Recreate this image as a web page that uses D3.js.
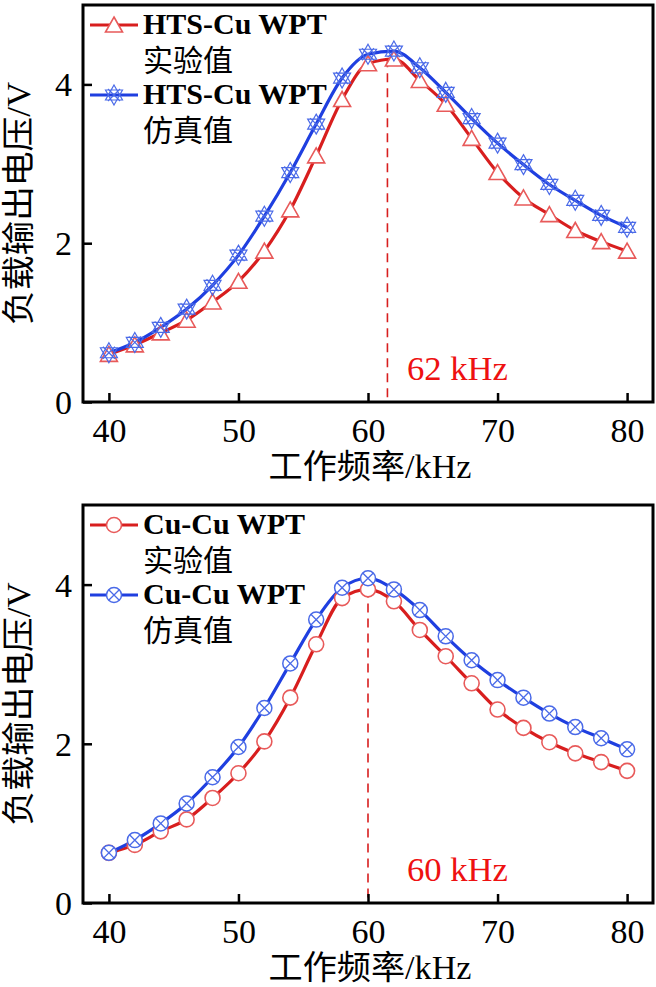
<!DOCTYPE html>
<html><head><meta charset="utf-8">
<script src="https://cdn.jsdelivr.net/npm/d3@7"></script>
<style>body{margin:0;background:#fff}</style>
</head><body>
<svg id="c" width="656" height="987"></svg>
<script>
const freq = [40,42,44,46,48,50,52,54,56,58,60,62,64,66,68,70,72,74,76,78,80];
const htsExp = [0.60,0.72,0.87,1.03,1.26,1.52,1.90,2.42,3.10,3.81,4.26,4.32,4.05,3.75,3.32,2.89,2.57,2.36,2.16,2.02,1.90];
const htsSim = [0.62,0.75,0.94,1.17,1.47,1.85,2.34,2.89,3.50,4.08,4.38,4.42,4.21,3.90,3.57,3.26,2.99,2.74,2.54,2.35,2.20];
const cuExp = [0.63,0.73,0.90,1.05,1.32,1.63,2.03,2.58,3.25,3.83,3.94,3.79,3.43,3.10,2.76,2.43,2.20,2.02,1.88,1.77,1.66];
const cuSim = [0.63,0.79,1.00,1.25,1.58,1.96,2.45,3.01,3.56,3.96,4.08,3.94,3.68,3.35,3.05,2.80,2.58,2.38,2.21,2.07,1.93];
const xTicks = [40,50,60,70,80];
const yTicks = [0,2,4];
const panels = [
  {top:5, bottom:402, exp:htsExp, sim:htsSim, name:"HTS-Cu WPT", mark:"tri", peak:61.5, peakVal:4.33, label:"62 kHz"},
  {top:505, bottom:903, exp:cuExp, sim:cuSim, name:"Cu-Cu WPT", mark:"circ", peak:60, peakVal:3.95, label:"60 kHz"}
];
const RED="#d81e1e", BLUE="#1f3fe0", RED2="#e85a5a", BLUE2="#4a6ae8";
const svg = d3.select("#c");
const serif = "'Liberation Serif','Times New Roman',serif";
const cjk = "'Liberation Serif','Noto Sans CJK SC',serif";
const L=83, R=653;
const x = d3.scaleLinear().domain([38,82]).range([L,R]);

function drawMarker(g, type, cx, cy){
  if(type==="tri"){
    g.append("path").attr("d",`M${cx},${cy-8}L${cx+8.5},${cy+7}L${cx-8.5},${cy+7}Z`)
     .attr("fill","#fff").attr("stroke",RED2).attr("stroke-width",1.6);
  } else if(type==="circ"){
    g.append("circle").attr("cx",cx).attr("cy",cy).attr("r",7.5)
     .attr("fill","#fff").attr("stroke",RED2).attr("stroke-width",1.6);
  } else if(type==="star"){
    g.append("path").attr("d",`M${cx},${cy-10}L${cx+8.5},${cy+5}L${cx-8.5},${cy+5}Z M${cx},${cy+10}L${cx+8.5},${cy-5}L${cx-8.5},${cy-5}Z M${cx-6},${cy-6}L${cx+6},${cy+6}M${cx+6},${cy-6}L${cx-6},${cy+6}`)
     .attr("fill","none").attr("stroke",BLUE2).attr("stroke-width",1.2);
  } else if(type==="ox"){
    g.append("circle").attr("cx",cx).attr("cy",cy).attr("r",7.5)
     .attr("fill","#fff").attr("stroke",BLUE2).attr("stroke-width",1.5);
    g.append("path").attr("d",`M${cx-5.3},${cy-5.3}L${cx+5.3},${cy+5.3}M${cx+5.3},${cy-5.3}L${cx-5.3},${cy+5.3}`)
     .attr("stroke",BLUE2).attr("stroke-width",1.3);
  }
}

panels.forEach((p,pi)=>{
  const y = d3.scaleLinear().domain([0,5]).range([p.bottom,p.top]);
  const g = svg.append("g");
  g.append("line").attr("x1",x(p.peak)).attr("x2",x(p.peak)).attr("y1",y(p.peakVal)).attr("y2",p.bottom)
   .attr("stroke",RED).attr("stroke-width",1.6).attr("stroke-dasharray","9,6");
  const line = d3.line().x((d,i)=>x(freq[i])).y(d=>y(d)).curve(d3.curveMonotoneX);
  const expType = p.mark, simType = p.mark==="tri"?"star":"ox";
  g.append("path").datum(p.exp).attr("d",line).attr("fill","none").attr("stroke",RED).attr("stroke-width",3.2);
  g.append("path").datum(p.sim).attr("d",line).attr("fill","none").attr("stroke",BLUE).attr("stroke-width",3.2);
  p.exp.forEach((v,i)=>drawMarker(g,expType,x(freq[i]),y(v)));
  p.sim.forEach((v,i)=>drawMarker(g,simType,x(freq[i]),y(v)));
  g.append("rect").attr("x",L).attr("y",p.top).attr("width",R-L).attr("height",p.bottom-p.top)
   .attr("fill","none").attr("stroke","#000").attr("stroke-width",3);
  const xa = g.append("g").attr("transform",`translate(0,${p.bottom})`)
    .call(d3.axisBottom(x).tickValues(xTicks).tickFormat(d3.format("d")).tickSizeInner(-9).tickSizeOuter(0).tickPadding(0));
  const ya = g.append("g").attr("transform",`translate(${L},0)`)
    .call(d3.axisLeft(y).tickValues(yTicks).tickFormat(d3.format("d")).tickSizeInner(-9).tickSizeOuter(0).tickPadding(11));
  [xa,ya].forEach(a=>{
    a.select(".domain").remove();
    a.selectAll("line").attr("stroke","#000").attr("stroke-width",2.5);
    a.selectAll("text").attr("font-family",serif).attr("font-size",34).attr("fill","#000");
  });
  xa.selectAll("text").attr("y",40).attr("dy",null);
  ya.selectAll("text").attr("dy","0.34em");
  g.append("text").attr("x",370).attr("y",p.bottom+76).attr("text-anchor","middle")
   .attr("font-family",cjk).attr("font-size",33).attr("textLength",203).attr("lengthAdjust","spacingAndGlyphs")
   .text("工作频率/kHz");
  g.append("text").attr("transform",`translate(30,${(p.top+p.bottom)/2}) rotate(-90)`).attr("text-anchor","middle")
   .attr("font-family",cjk).attr("font-size",33).attr("textLength",243).attr("lengthAdjust","spacingAndGlyphs")
   .text("负载输出电压/V");
  g.append("text").attr("x",407).attr("y",p.bottom-22).attr("font-family",serif).attr("font-size",33)
   .attr("fill","#ee1111").attr("textLength",101).attr("lengthAdjust","spacingAndGlyphs").text(p.label);
  const ly1 = p.top+20, ly2 = p.top+90;
  g.append("line").attr("x1",90).attr("x2",138).attr("y1",ly1).attr("y2",ly1).attr("stroke",RED).attr("stroke-width",3.2);
  drawMarker(g,expType,114,ly1);
  g.append("line").attr("x1",90).attr("x2",138).attr("y1",ly2).attr("y2",ly2).attr("stroke",BLUE).attr("stroke-width",3.2);
  drawMarker(g,simType,114,ly2);
  [[ly1,"实验值"],[ly2,"仿真值"]].forEach(([yy,t])=>{
    g.append("text").attr("x",143).attr("y",yy+9).attr("font-family",serif).attr("font-weight","bold").attr("font-size",30).text(p.name);
    g.append("text").attr("x",143).attr("y",yy+46).attr("font-family",cjk).attr("font-size",30).text(t);
  });
});
</script>
</body></html>
